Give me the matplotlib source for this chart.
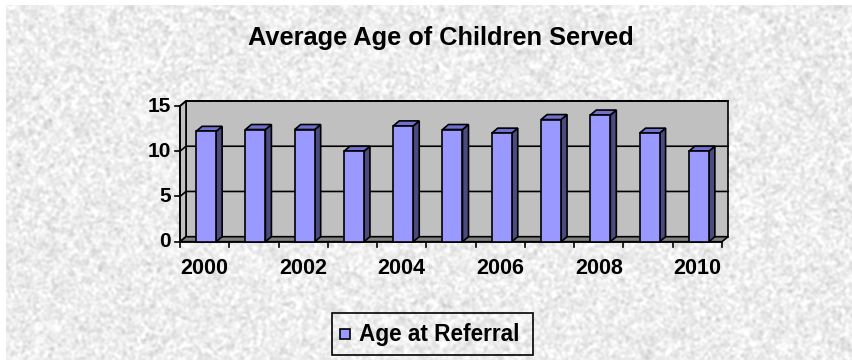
import numpy as np
import matplotlib
matplotlib.use("Agg")
import matplotlib.pyplot as plt
from matplotlib.patches import Polygon, Rectangle

plt.rcParams['font.family'] = ['Liberation Sans', 'DejaVu Sans']

years = ["2000", "2001", "2002", "2003", "2004", "2005",
         "2006", "2007", "2008", "2009", "2010"]
age_at_referral = [12.2, 12.4, 12.4, 10.0, 12.8, 12.4, 12.0, 13.5, 14.0, 12.0, 10.0]
y_ticks = [0, 5, 10, 15]
title = "Average Age of Children Served"
series_name = "Age at Referral"

W, H, DPI = 853, 360, 100
fig = plt.figure(figsize=(W / DPI, H / DPI), dpi=DPI)
fig.patch.set_facecolor("white")

# marbled light-grey backdrop
bg = fig.add_axes([6 / W, 0, 1 - 6 / W, 1 - 5 / H], zorder=-5)
rng = np.random.default_rng(7)
noise = rng.normal(0, 1, (H, W))
k = np.ones(3) / 3
for _ in range(2):
    noise = np.apply_along_axis(lambda r: np.convolve(r, k, mode="same"), 1, noise)
    noise = np.apply_along_axis(lambda c: np.convolve(c, k, mode="same"), 0, noise)
tex = 0.93 + 0.035 * noise / noise.std()
bg.imshow(np.clip(tex, 0, 1), cmap="gray", vmin=0, vmax=1, aspect="auto",
          interpolation="bilinear")
bg.set_axis_off()

# plot area (front plane) in pixels
x0, x1 = 180.0, 722.0
y_zero, y_top = 241.7, 106.0
ax = fig.add_axes([x0 / W, (H - y_zero) / H, (x1 - x0) / W, (y_zero - y_top) / H])
n = len(years)
ax.set_xlim(0, n)
ax.set_ylim(0, 15)
ax.set_axis_off()

px_x = (x1 - x0) / n          # pixels per category
px_y = (y_zero - y_top) / 15  # pixels per unit
dx = 6.0 / px_x               # depth offset in data units
dy = 5.0 / px_y

LW = 1.2
edge = dict(edgecolor="black", linewidth=LW, clip_on=False)

# back wall, side wall and floor
ax.add_patch(Polygon([(dx, dy), (n + dx, dy), (n + dx, 15 + dy), (dx, 15 + dy)],
                     closed=True, facecolor="#c0c0c0", zorder=1, **edge))
ax.add_patch(Polygon([(0, 0), (dx, dy), (dx, 15 + dy), (0, 15)],
                     closed=True, facecolor="#c0c0c0", zorder=1, **edge))
ax.add_patch(Polygon([(0, 0), (n, 0), (n + dx, dy), (dx, dy)],
                     closed=True, facecolor="#808080", zorder=2, **edge))
for t in y_ticks[1:]:
    ax.plot([0, dx, n + dx], [t, t + dy, t + dy], color="black", lw=LW,
            zorder=1.5, clip_on=False)

# y axis with ticks
ax.plot([0, 0], [0, 15], color="black", lw=LW, zorder=3, clip_on=False)
for t in y_ticks:
    ax.plot([-5 / px_x, 0], [t, t], color="black", lw=LW, zorder=3, clip_on=False)
    ax.text(-9 / px_x, t, str(t), ha="right", va="center", fontsize=15,
            fontweight="bold")

# x axis ticks at category boundaries
ax.plot([0, n], [0, 0], color="black", lw=LW, zorder=3, clip_on=False)
for i in range(n + 1):
    ax.plot([i, i], [0, -5 / px_y], color="black", lw=LW, zorder=3, clip_on=False)
for i, lab in enumerate(years):
    if i % 2 == 0:
        ax.text(i + 0.5, -27 / px_y, lab, ha="center", va="center", fontsize=15.5,
                fontweight="bold")

# 3-D columns
front_c, top_c, side_c = "#9999ff", "#7070d0", "#4b4b80"
bw = 20.0 / px_x
for i, v in enumerate(age_at_referral):
    left = i + 0.5 - bw / 2 + 1.5 / px_x
    right = left + bw
    ax.add_patch(Polygon([(right, 0), (right + dx, dy), (right + dx, v + dy), (right, v)],
                         closed=True, facecolor=side_c, zorder=4, **edge))
    ax.add_patch(Polygon([(left, v), (right, v), (right + dx, v + dy), (left + dx, v + dy)],
                         closed=True, facecolor=top_c, zorder=4, **edge))
    ax.add_patch(Rectangle((left, 0), bw, v, facecolor=front_c, zorder=5, **edge))

# title
fig.text(441 / W, 1 - 38 / H, title, ha="center", va="center", fontsize=18.3,
         fontweight="bold")

# legend box
lx0, lx1, ly0, ly1 = 332, 533, 313, 355
fig.patches.append(Rectangle((lx0 / W, 1 - ly1 / H), (lx1 - lx0) / W, (ly1 - ly0) / H,
                             transform=fig.transFigure, facecolor="none",
                             edgecolor="black", linewidth=LW))
sq = 10
fig.patches.append(Rectangle((340 / W, 1 - (334 + sq / 2) / H), sq / W, sq / H,
                             transform=fig.transFigure, facecolor=front_c,
                             edgecolor="black", linewidth=LW))
fig.text(359 / W, 1 - 334 / H, series_name, ha="left", va="center", fontsize=16.3,
         fontweight="bold")

fig.savefig("out.png", dpi=DPI)
